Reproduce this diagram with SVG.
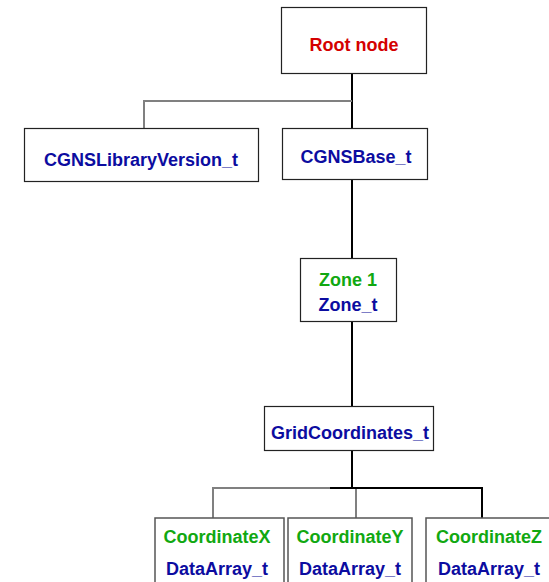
<svg xmlns="http://www.w3.org/2000/svg" width="549" height="582" viewBox="0 0 549 582">
  <style>
    .box { fill: #ffffff; stroke: #222222; stroke-width: 1.2; }
    .leaf { fill: #ffffff; stroke: #555555; stroke-width: 1.5; }
    .lbl { font-family: "Liberation Sans", Arial, sans-serif; font-weight: bold; font-size: 18px; text-anchor: middle; }
    .red { fill: #d40000; }
    .blue { fill: #0c0ca0; }
    .green { fill: #11a811; }
    .trunk { stroke: #000000; stroke-width: 2; fill: none; }
    .branch { stroke: #808080; stroke-width: 2; fill: none; }
  </style>
  <rect width="549" height="582" fill="#ffffff"/>

  <g id="connectors">
    <!-- main trunk -->
    <line class="trunk" x1="352" y1="74" x2="352" y2="128"/>
    <line class="trunk" x1="352" y1="179" x2="352" y2="258"/>
    <line class="trunk" x1="352" y1="321" x2="352" y2="406"/>
    <line class="trunk" x1="352" y1="450" x2="352" y2="488"/>
    <!-- root to library version -->
    <polyline class="branch" points="352,101 144,101 144,128"/>
    <!-- grid coordinates to coordinate arrays -->
    <polyline class="branch" points="330,488 213,488 213,518"/>
    <line class="branch" x1="356" y1="488" x2="356" y2="518"/>
    <polyline class="trunk" points="330,488 482,488 482,518"/>
  </g>

  <g id="root">
    <rect class="box" x="281.5" y="7.5" width="145" height="66"/>
    <text class="lbl red" x="354" y="51">Root node</text>
  </g>

  <g id="library-version">
    <rect class="box" x="24.5" y="128.5" width="234" height="53"/>
    <text class="lbl blue" x="141" y="166">CGNSLibraryVersion_t</text>
  </g>

  <g id="base">
    <rect class="box" x="282.5" y="128.5" width="145" height="51"/>
    <text class="lbl blue" x="356" y="163">CGNSBase_t</text>
  </g>

  <g id="zone">
    <rect class="box" x="300.5" y="258.5" width="96" height="63"/>
    <text class="lbl green" x="348" y="286">Zone 1</text>
    <text class="lbl blue" x="348" y="311">Zone_t</text>
  </g>

  <g id="grid-coordinates">
    <rect class="box" x="264.5" y="406.5" width="169" height="44"/>
    <text class="lbl blue" x="350" y="439">GridCoordinates_t</text>
  </g>

  <g id="coordinate-x">
    <rect class="leaf" x="155" y="518" width="129" height="80"/>
    <text class="lbl green" x="217" y="543">CoordinateX</text>
    <text class="lbl blue" x="217" y="575">DataArray_t</text>
  </g>

  <g id="coordinate-y">
    <rect class="leaf" x="288" y="518" width="124" height="80"/>
    <text class="lbl green" x="350" y="543">CoordinateY</text>
    <text class="lbl blue" x="350" y="575">DataArray_t</text>
  </g>

  <g id="coordinate-z">
    <rect class="leaf" x="426" y="518" width="140" height="80"/>
    <text class="lbl green" x="489" y="543">CoordinateZ</text>
    <text class="lbl blue" x="489" y="575">DataArray_t</text>
  </g>
</svg>
